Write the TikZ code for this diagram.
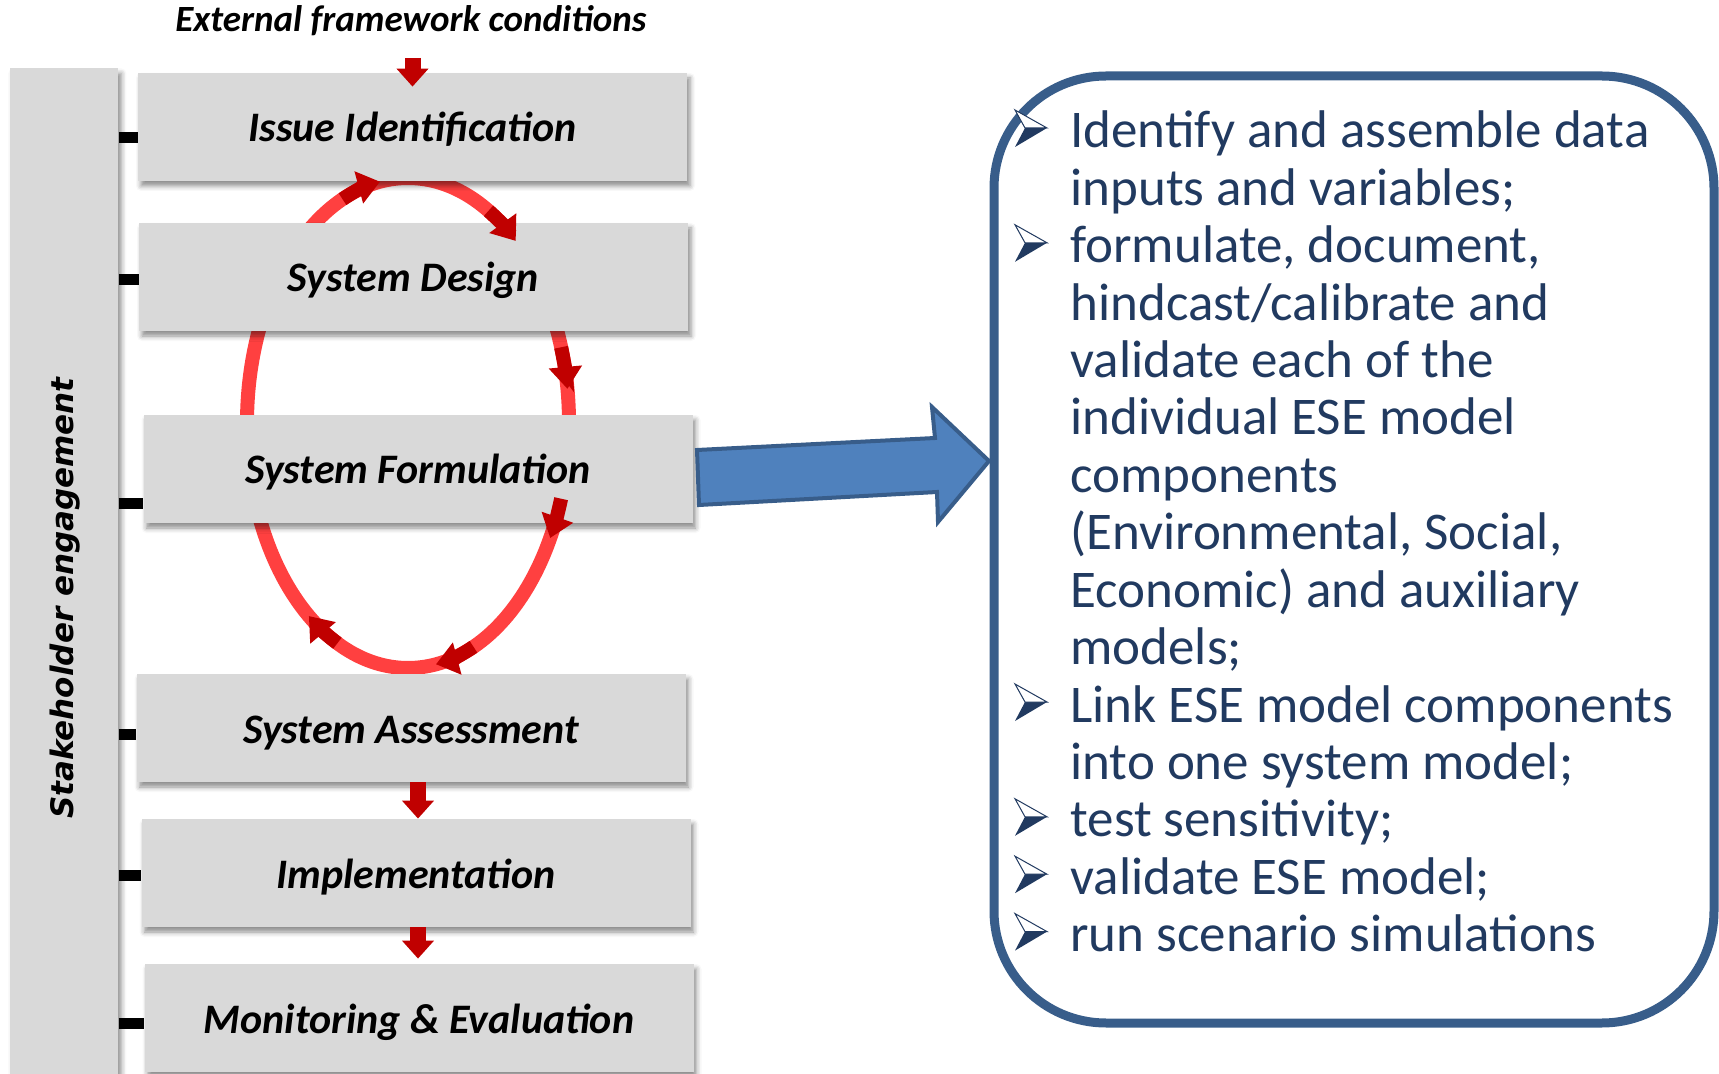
\documentclass[tikz,border=0pt]{standalone}
\usepackage{fontspec}
\setmainfont{Carlito}
\newfontfamily\djv{DejaVu Sans}
\usetikzlibrary{arrows.meta,shadows.blur,calc}
\definecolor{boxgray}{HTML}{D9D9D9}
\definecolor{ringred}{RGB}{255,64,64}
\definecolor{darkred}{HTML}{C00000}
\definecolor{blueborder}{HTML}{385D8A}
\definecolor{bluefill}{HTML}{4F81BD}
\definecolor{navytext}{RGB}{33,58,96}
\begin{document}
\begin{tikzpicture}[x=0.5pt,y=0.5pt,
  softshadow/.style={blur shadow={shadow xshift=1.5pt, shadow yshift=-2.5pt, shadow blur radius=2.5pt, shadow opacity=45}},
  stage/.style={fill=boxgray, minimum width=274.5pt, minimum height=54pt, inner sep=0pt,
    font=\bfseries\itshape\fontsize{21}{25}\selectfont, text=black,
    text height=18pt, text depth=3pt, softshadow},
  tickline/.style={line width=5.5pt, black},
  redarr/.style={darkred, line width=8pt, -{Triangle[width=15.5pt,length=9pt]}},
  ring/.style={ringred, line width=7pt},
  ringhead/.style={darkred, line width=7pt, -{Triangle[width=16pt,length=11pt]}},
  bodytext/.style={anchor=base west, inner sep=0pt, text=navytext, font=\fontsize{26.5}{29}\selectfont},
  bul/.pic={
    \fill[navytext] (10,0) -- (32,0) -- (0,-19) -- cycle;
    \filldraw[fill=white, draw=navytext, line width=0.5pt, line join=miter] (0,18) -- (32,0) -- (10,0) -- cycle;
  }
]
\useasboundingbox (0,0) rectangle (1719,-1074);

% stakeholder bar
\node[fill=boxgray, minimum width=54pt, minimum height=503pt, inner sep=0pt, anchor=north west, softshadow] (bar) at (10,-68) {};
\node[rotate=90, inner sep=0pt, font=\djv\bfseries\itshape\fontsize{15.5}{18}\selectfont] (stk) at (65,-598) {Stakeholder engagement};

% ring (behind boxes)
\coordinate (ringc) at (408,-423);
\draw[ring] (ringc) ellipse [x radius=80.5pt, y radius=122.5pt];

% ticks
\foreach \n/\y in {issue/138, sd/280, sf/504, sa/734, impl/875, me/1023} {
  \coordinate (tk\n) at (0,-\y);
}

% stage boxes
\node[stage] (issue) at (412.5,-127) {Issue Identification};
\node[stage] (sd) at (413.5,-277) {System Design};
\node[stage] (sf) at (418,-469) {System Formulation};
\node[stage] (sa) at (411,-728) {System Assessment};
\node[stage] (impl) at (416,-873) {Implementation};
\node[stage] (me) at (419,-1018) {Monitoring \& Evaluation};

\foreach \n in {issue, sd, sf, sa, impl, me} {
  \draw[tickline] (bar.east |- tk\n) -- (\n.west |- tk\n);
}

% ring arrowheads (clockwise)
\foreach \s/\e in {114/100, 60/48, 18/8, -18/-28, -66/-80, -116/-128} {
  \draw[ringhead] ([shift={(\s:80.5pt and 122.5pt)}]ringc) arc[start angle=\s, end angle=\e, x radius=80.5pt, y radius=122.5pt];
}

% external conditions
\node[anchor=base, inner sep=0pt, font=\bfseries\itshape\fontsize{18.5}{22}\selectfont] (ext) at (411,-32) {External framework conditions};
\coordinate (extarr) at (412.5,-58);
\draw[redarr] (extarr) -- ([yshift=-7pt]issue.north);
\draw[redarr] ([xshift=3.5pt]sa.south) -- ([xshift=1pt]impl.north);
\draw[redarr] ([xshift=1pt]impl.south) -- ([xshift=-0.5pt,yshift=2.5pt]me.north);

% right panel
\node[draw=blueborder, line width=4.5pt, rounded corners=56pt, minimum width=360pt, minimum height=473.5pt, inner sep=0pt] (panel) at (1354,-549.5) {};

% blue block arrow
\draw[blueborder, fill=bluefill, line width=2pt, line join=miter]
  (697,-450) -- (935,-438) -- (932,-407) -- (989,-461) -- (938,-522) -- (937,-492) -- (699,-505) -- cycle;

% text lines
\foreach \t [count=\i] in {Identify and assemble data, inputs and variables;, {formulate, document,}, hindcast/calibrate and, validate each of the, individual ESE model, components, {(Environmental, Social,}, Economic) and auxiliary, models;, Link ESE model components, into one system model;, test sensitivity;, validate ESE model;, run scenario simulations} {
  \node[bodytext] (line\i) at (1070, {-148-57.4*(\i-1)}) {\t};
}
\foreach \i in {1,3,11,13,14,15} {
  \pic (bul\i) at (1015, {-148-57.4*(\i-1)+20}) {bul};
}
\end{tikzpicture}
\end{document}
